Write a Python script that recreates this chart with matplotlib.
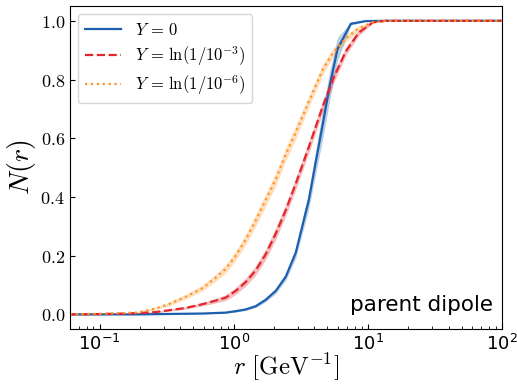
import numpy as np
import matplotlib
matplotlib.use("Agg")
import matplotlib.pyplot as plt
from matplotlib.ticker import FuncFormatter

plt.rcParams["mathtext.fontset"] = "cm"

# r [GeV^-1] and N(r)
r = [0.06, 0.1, 0.186, 0.262, 0.327, 0.438, 0.587, 0.734, 0.871, 1.035, 1.229,
     1.459, 1.733, 2.057, 2.442, 2.90, 3.63, 4.62, 5.48, 6.85, 8.57, 10.9,
     13.6, 30.0, 100.0]
n_y3 = [0.0, 0.001, 0.004, 0.008, 0.014, 0.022, 0.035, 0.047, 0.057, 0.08, 0.11,
        0.15, 0.205, 0.275, 0.355, 0.445, 0.57, 0.71, 0.80, 0.896, 0.96, 0.995,
        1.0, 1.0, 1.0]
n_y6 = [0.0005, 0.002, 0.006, 0.02, 0.035, 0.06, 0.09, 0.125, 0.155, 0.20, 0.255,
        0.32, 0.39, 0.46, 0.545, 0.62, 0.725, 0.835, 0.89, 0.94, 0.975, 0.995,
        1.0, 1.0, 1.0]
err_y3 = [0.0, 0.0, 0.001, 0.002, 0.003, 0.004, 0.006, 0.008, 0.01, 0.012, 0.014,
          0.016, 0.018, 0.02, 0.02, 0.02, 0.02, 0.02, 0.018, 0.014, 0.01, 0.003,
          0.0, 0.0, 0.0]
err_y6 = [0.0, 0.001, 0.002, 0.004, 0.006, 0.008, 0.01, 0.012, 0.014, 0.016, 0.018,
          0.02, 0.022, 0.022, 0.022, 0.022, 0.02, 0.018, 0.015, 0.012, 0.008, 0.003,
          0.0, 0.0, 0.0]

r_y0 = [0.06, 0.186, 0.587, 0.871, 1.035, 1.229, 1.459, 1.733, 2.057, 2.442, 2.90,
        3.63, 4.09, 4.62, 5.2, 5.94, 7.47, 9.64, 13.6, 100.0]
n_y0 = [0.0, 0.0, 0.003, 0.006, 0.011, 0.017, 0.028, 0.05, 0.08, 0.128, 0.21,
        0.39, 0.52, 0.65, 0.78, 0.904, 0.99, 0.999, 1.0, 1.0]
err_y0 = [0.0, 0.0, 0.001, 0.002, 0.003, 0.004, 0.005, 0.007, 0.009, 0.012, 0.018,
          0.03, 0.04, 0.05, 0.05, 0.04, 0.005, 0.0, 0.0, 0.0]

series = [
    (r_y0, n_y0, err_y0, "#1c5fae", "-", r"$Y\,=\,0$"),
    (r, n_y3, err_y3, "#e3262c", "--", r"$Y\,=\,\ln(1/10^{-3})$"),
    (r, n_y6, err_y6, "#ff9526", ":", r"$Y\,=\,\ln(1/10^{-6})$"),
]

fig, ax = plt.subplots(figsize=(5.17, 3.84), dpi=100)
for rr, n, e, col, ls, lab in series:
    rr = np.array(rr); n = np.array(n); e = np.array(e)
    ax.fill_between(rr, n - e, n + e, color=col, alpha=0.3, lw=0)
    ax.plot(rr, n, color=col, ls=ls, lw=1.6, label=lab)

ax.set_xscale("log")
ax.set_xlim(0.06, 100)
ax.set_ylim(-0.05, 1.05)
ax.set_yticks([0.0, 0.2, 0.4, 0.6, 0.8, 1.0])
ax.yaxis.set_major_formatter(FuncFormatter(lambda v, p: r"$%.1f$" % v))
ax.tick_params(which="both", direction="in", labelsize=13)
ax.set_xlabel(r"$r\ [\mathrm{GeV}^{-1}]$", fontsize=18, labelpad=-2)
ax.set_ylabel(r"$N(r)$", fontsize=20, labelpad=2)
ax.legend(loc="upper left", fontsize=12, handlelength=2.2, labelspacing=0.3)
ax.text(0.98, 0.045, "parent dipole", transform=ax.transAxes, ha="right",
        va="bottom", fontsize=15.5)

fig.subplots_adjust(left=0.135, right=0.971, top=0.984, bottom=0.143)
fig.savefig("out.png", dpi=100)
